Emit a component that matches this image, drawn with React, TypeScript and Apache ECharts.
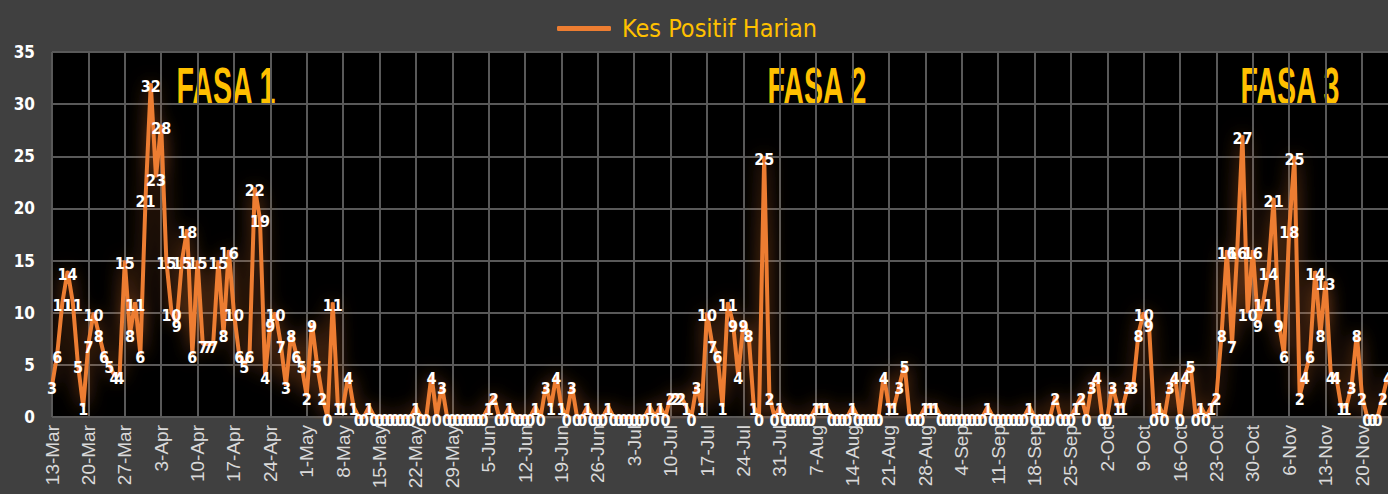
import React, { useEffect, useRef } from "react";
import * as echarts from "echarts";

// Daily positive cases, 13-Mar to 25-Nov
const mar = [3, 6, 11, 14, 11, 5, 1, 7, 10, 8, 6, 5, 4, 4, 15, 8, 11, 6, 21];
const apr = [32, 23, 28, 15, 10, 9, 15, 18, 6, 15, 7, 7, 7, 15, 8, 16, 10, 6, 5, 6, 22, 19, 4, 9, 10, 7, 3, 8, 6, 5];
const may = [2, 9, 5, 2, 0, 11, 1, 1, 4, 1, 0, 0, 1, 0, 0, 0, 0, 0, 0, 0, 0, 1, 0, 0, 4, 0, 3, 0, 0, 0, 0];
const jun = [0, 0, 0, 0, 1, 2, 0, 0, 1, 0, 0, 0, 0, 1, 0, 3, 1, 4, 1, 0, 3, 0, 0, 1, 0, 0, 0, 1, 0, 0];
const jul = [0, 0, 0, 0, 0, 1, 0, 1, 0, 2, 2, 2, 1, 0, 3, 1, 10, 7, 6, 1, 11, 9, 4, 9, 8, 1, 0, 25, 2, 0, 1];
const aug = [0, 0, 0, 0, 0, 0, 1, 1, 1, 0, 0, 0, 0, 1, 0, 0, 0, 0, 0, 4, 1, 1, 3, 5, 0, 0, 0, 1, 1, 1, 0];
const sep = [0, 0, 0, 0, 0, 0, 0, 0, 1, 0, 0, 0, 0, 0, 0, 0, 1, 0, 0, 0, 0, 2, 0, 0, 0, 1, 2, 0, 3, 4];
const oct = [0, 0, 3, 1, 1, 3, 3, 8, 10, 9, 0, 1, 0, 3, 4, 0, 4, 5, 0, 1, 0, 1, 2, 8, 16, 7, 16, 27, 10, 16, 9];
const nov = [11, 14, 21, 9, 6, 18, 25, 2, 4, 6, 14, 8, 13, 4, 4, 1, 1, 3, 8, 2, 0, 0, 0, 2, 4];

const values = [...mar, ...apr, ...may, ...jun, ...jul, ...aug, ...sep, ...oct, ...nov];

const monthNames = ["Jan", "Feb", "Mar", "Apr", "May", "Jun", "Jul", "Aug", "Sep", "Oct", "Nov", "Dec"];
const startYear = 2020;
const startMonth = 2; // March
const startDay = 13;
const categories = values.map((_, i) => {
  const d = new Date(startYear, startMonth, startDay + i);
  return `${d.getDate()}-${monthNames[d.getMonth()]}`;
});

const seriesName = "Kes Positif Harian";
const phaseLabels = ["FASA 1", "FASA 2", "FASA 3"];
const phaseX = [226, 817, 1290];

const narrow = "'Liberation Sans Narrow', 'DejaVu Sans Condensed', 'Liberation Sans', sans-serif";

export default function App() {
  const ref = useRef<HTMLDivElement>(null);
  useEffect(() => {
    document.body.style.margin = "0";
    const chart = echarts.init(ref.current!, null, { renderer: "svg" });
    chart.setOption({
      animation: false,
      backgroundColor: "#404040",
      legend: {
        data: [seriesName],
        left: 552,
        top: 11,
        icon: "roundRect",
        itemWidth: 54,
        itemHeight: 5,
        textStyle: {
          color: "#FFC000",
          fontSize: 25,
          fontFamily: narrow,
          padding: [0, 0, 0, 6],
        },
      },
      grid: {
        left: 52,
        right: 0,
        top: 52,
        bottom: 77,
        show: true,
        backgroundColor: "#000000",
        borderWidth: 0,
      },
      xAxis: {
        type: "category",
        data: categories,
        boundaryGap: false,
        axisLine: { show: false },
        axisTick: { show: false },
        axisLabel: {
          interval: 6,
          rotate: 90,
          color: "#D9D9D9",
          fontSize: 19,
          fontFamily: "'Liberation Sans', sans-serif",
          margin: 8,
        },
        splitLine: { show: true, interval: 6, lineStyle: { color: "#595959", width: 2 } },
      },
      yAxis: {
        type: "value",
        min: 0,
        max: 35,
        interval: 5,
        axisLine: { show: false },
        axisTick: { show: false },
        axisLabel: {
          color: "#FFFFFF",
          fontWeight: "bold",
          fontSize: 17,
          fontFamily: narrow,
          margin: 17,
        },
        splitLine: { lineStyle: { color: "#595959", width: 2 } },
      },
      series: [
        {
          type: "line",
          name: seriesName,
          data: values,
          symbol: "circle",
          symbolSize: 1,
          showSymbol: true,
          showAllSymbol: true,
          itemStyle: { color: "#ED7D31" },
          lineStyle: {
            color: "#ED7D31",
            width: 4,
            shadowBlur: 18,
            shadowColor: "rgba(237,125,49,0.6)",
          },
          label: {
            show: true,
            position: "inside",
            offset: [0, 3],
            color: "#FFFFFF",
            fontWeight: "bold",
            fontSize: 16,
            fontFamily: narrow,
          },
        },
      ],
      graphic: phaseLabels.map((t, i) => ({
        type: "text",
        x: phaseX[i],
        y: 86,
        scaleX: 0.55,
        style: {
          text: t,
          fill: "#FFC000",
          fontSize: 52,
          fontWeight: "bold",
          fontFamily: "'Liberation Sans', sans-serif",
          textAlign: "center",
          textVerticalAlign: "middle",
        },
      })),
    });
    return () => chart.dispose();
  }, []);
  return <div ref={ref} style={{ width: 1388, height: 494, position: "absolute", left: 0, top: 0 }} />;
}
